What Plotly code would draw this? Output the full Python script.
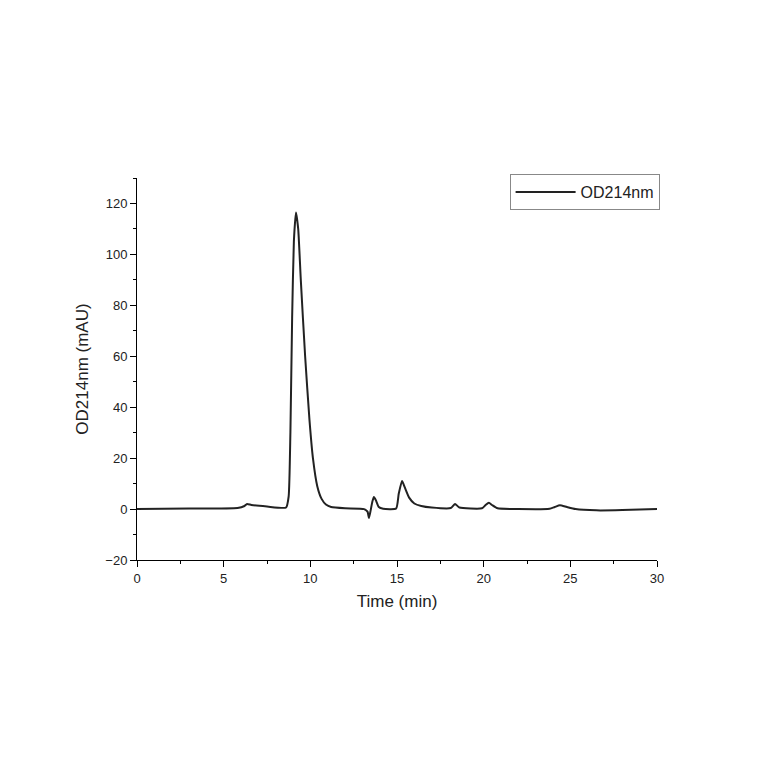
import plotly.graph_objects as go

time_min = [0, 3, 5.8, 6.2, 6.35, 6.6, 7.5, 8.6, 8.75, 8.85, 8.95, 9.05, 9.17, 9.3, 9.45, 9.7, 9.95, 10.15, 10.4, 10.65, 10.9, 11.2, 12, 13.1, 13.3, 13.38, 13.48, 13.58, 13.67, 13.78, 13.95, 14.2, 14.95, 15.1, 15.29, 15.45, 15.7, 16.0, 16.4, 17, 18.1, 18.35, 18.6, 19.9, 20.1, 20.3, 20.5, 20.8, 22, 23.8, 24.1, 24.4, 24.8, 25.3, 26.5, 28, 30]
od214 = [0, 0.2, 0.4, 1.2, 2.0, 1.6, 1.0, 0.6, 5, 30, 75, 105, 116.5, 110, 90, 60, 35, 20, 9, 4, 1.8, 0.8, 0.3, 0, -1, -3.5, -0.5, 3, 4.7, 3.5, 0.8, 0.1, 0.2, 6, 11, 8.5, 4.5, 2.2, 1.2, 0.6, 0.4, 2, 0.6, 0.3, 1.5, 2.5, 1.5, 0.3, 0, 0.1, 0.8, 1.5, 0.8, 0, -0.5, -0.4, 0]

fig = go.Figure(go.Scatter(x=time_min, y=od214, mode="lines", name="OD214nm",
                           line=dict(color="#222222", width=2, shape="spline", smoothing=0.5)))
axis_common = dict(showgrid=False, zeroline=False, showline=True, linecolor="black", linewidth=1,
                   ticks="outside", ticklen=6, tickcolor="black",
                   tickfont=dict(family="Liberation Sans, Arial", size=13, color="#222"))
fig.update_xaxes(range=[0, 30], tickvals=[0, 5, 10, 15, 20, 25, 30],
                 minor=dict(ticks="outside", ticklen=3, tickcolor="black", dtick=2.5, tick0=0),
                 title=dict(text="Time (min)", font=dict(family="Liberation Sans, Arial", size=17, color="#222"), standoff=10),
                 **axis_common)
fig.update_yaxes(range=[-20, 130], tickvals=[-20, 0, 20, 40, 60, 80, 100, 120],
                 minor=dict(ticks="outside", ticklen=3, tickcolor="black", dtick=10, tick0=0),
                 title=dict(text="OD214nm (mAU)", font=dict(family="Liberation Sans, Arial", size=17, color="#222"), standoff=12),
                 **axis_common)
fig.update_layout(width=764, height=764, plot_bgcolor="white", paper_bgcolor="white",
                  margin=dict(l=129, r=115, t=170, b=212), showlegend=True,
                  legend=dict(x=1.005, y=1.01, xanchor="right", yanchor="top", bordercolor="#888", borderwidth=1,
                              font=dict(family="Liberation Sans, Arial", size=16, color="#222"),
                              itemwidth=60, tracegroupgap=0,
                              bgcolor="white"))
fig.write_html("out.html")
